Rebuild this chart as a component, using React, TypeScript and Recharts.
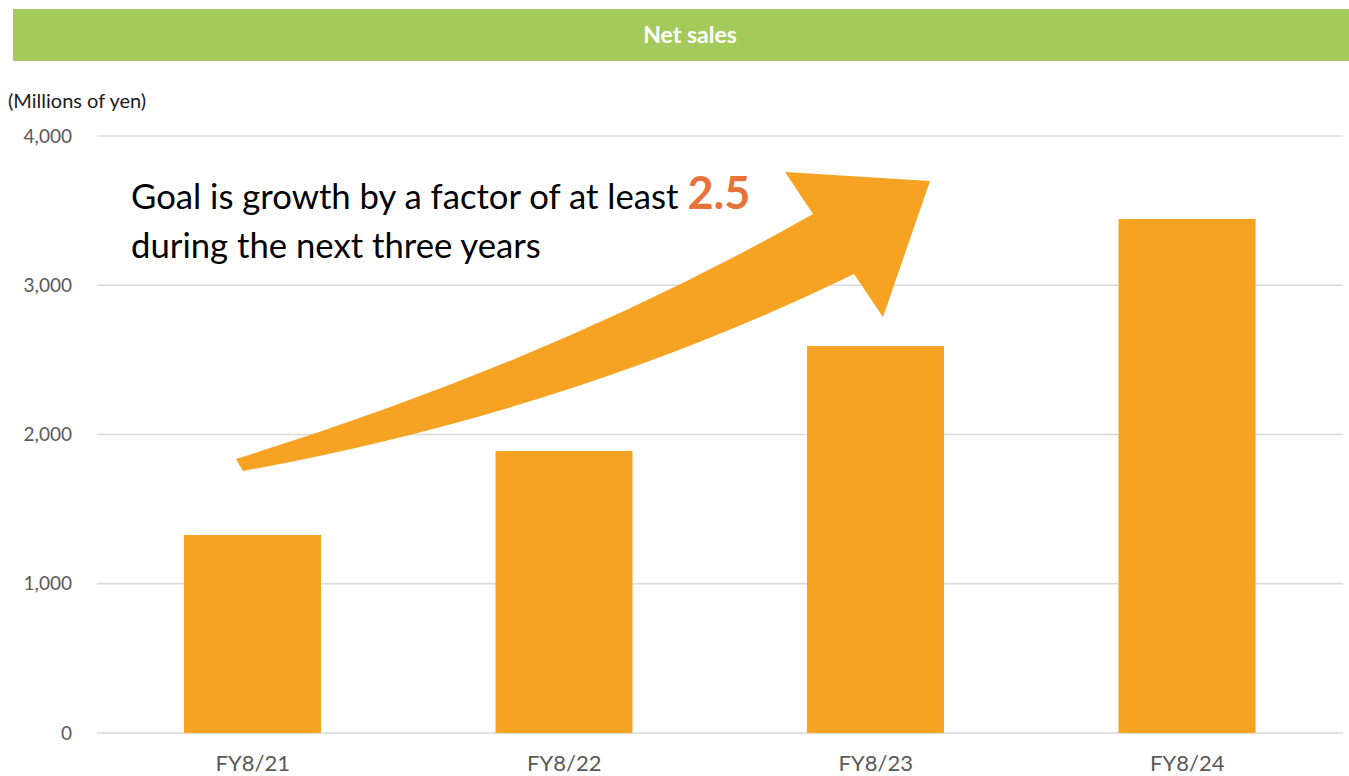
import { BarChart, Bar, XAxis, YAxis, CartesianGrid } from 'recharts'

const categories = ['FY8/21', 'FY8/22', 'FY8/23', 'FY8/24']
const netSales = [1327, 1889, 2593, 3444]
const yTicks = [0, 1000, 2000, 3000, 4000]

const FONT = 'Lato, "Noto Sans", sans-serif'
const ORANGE = '#F6A324'

const data = categories.map((c, i) => ({ name: c, sales: netSales[i] }))

export default function App() {
  return (
    <div style={{ position: 'absolute', left: 0, top: 0, width: 1349, height: 776, background: '#fff', fontFamily: FONT }}>
      <BarChart
        width={1349}
        height={776}
        data={data}
        margin={{ top: 136, right: 6, bottom: 0, left: 0 }}
        style={{ position: 'absolute', left: 0, top: 0 }}
      >
        <CartesianGrid vertical={false} stroke="#D9D9D9" strokeWidth={1.5} />
        <XAxis
          dataKey="name"
          height={43}
          axisLine={false}
          tickLine={false}
          tickMargin={16}
          tick={{ fill: '#595959', fontSize: 22, fontFamily: FONT }}
        />
        <YAxis
          width={97}
          domain={[0, 4000]}
          ticks={yTicks}
          axisLine={false}
          tickLine={false}
          tickMargin={19}
          tickFormatter={(v: number) => v.toLocaleString('en-US')}
          tick={{ fill: '#595959', fontSize: 19, fontFamily: FONT }}
        />
        <Bar dataKey="sales" fill={ORANGE} barSize={137} isAnimationActive={false} />
      </BarChart>

      {/* header band, unit label, callout and arrow */}
      <svg width={1349} height={776} style={{ position: 'absolute', left: 0, top: 0, pointerEvents: 'none' }}>
        <rect x={13} y={9} width={1336} height={52} fill="#A4CA5C" />
        <text x={690} y={43} textAnchor="middle" fill="#fff" fontSize={23} fontWeight={700} fontFamily={FONT}>
          Net sales
        </text>
        <text x={8} y={108} fill="#1a1a1a" fontSize={20} fontFamily={FONT}>
          (Millions of yen)
        </text>
        <path
          d="M 236 459 Q 558 359 813 214 L 785 172 L 930 181 L 883 317 L 854 274 Q 573 411 243 471 Z"
          fill={ORANGE}
        />
        <text x={131} y={209} fill="#000" fontSize={34.7} fontFamily={FONT}>
          Goal is growth by a factor of at least{' '}
          <tspan fill="#E8733A" fontSize={45} fontWeight={700}>2.5</tspan>
        </text>
        <text x={131} y={258} fill="#000" fontSize={34.7} fontFamily={FONT}>
          during the next three years
        </text>
      </svg>
    </div>
  )
}
